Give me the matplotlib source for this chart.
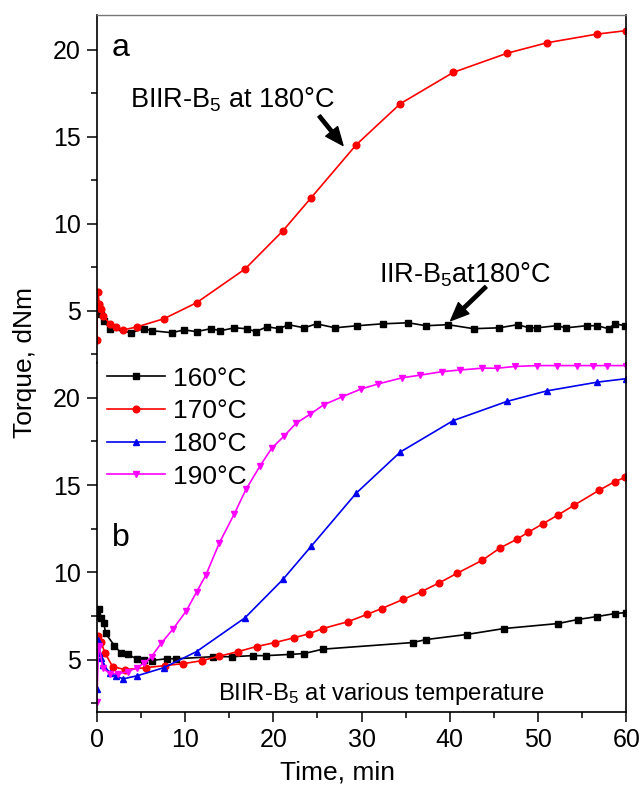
import numpy as np
import matplotlib
matplotlib.use("Agg")
import matplotlib.pyplot as plt
from matplotlib.ticker import MultipleLocator

plt.rcParams['font.family'] = ['Liberation Sans', 'DejaVu Sans']
plt.rcParams['mathtext.fontset'] = 'custom'
plt.rcParams['mathtext.rm'] = 'Liberation Sans'
plt.rcParams['mathtext.it'] = 'Liberation Sans:italic'

# BIIR-B5 at 180 C (same run shown in both panels)
t180 = [0.0, 0.1, 0.3, 0.5, 0.7, 1.5, 2.2, 3.0, 4.6, 7.6, 11.3, 16.8, 21.1, 24.3,
        29.4, 34.4, 40.4, 46.5, 51.0, 56.7, 60.0]
y180 = [3.3, 6.1, 5.4, 5.1, 4.7, 4.25, 4.05, 3.9, 4.08, 4.54, 5.46, 7.4, 9.6, 11.5,
        14.54, 16.9, 18.7, 19.8, 20.4, 20.9, 21.1]

# IIR-B5 at 180 C
t_iir = [0.1, 0.3, 0.5, 0.8, 1.5, 3.9, 5.3, 6.3, 8.5, 9.9, 11.3, 12.9, 14.0, 15.6,
         17.0, 18.0, 19.3, 20.7, 21.7, 23.5, 24.9, 27.0, 29.5, 32.4, 35.3, 37.3,
         39.8, 42.7, 45.6, 47.7, 49.0, 49.9, 52.1, 53.2, 55.5, 56.7, 58.0, 58.7, 59.9]
y_iir = [5.0, 5.3, 4.8, 4.4, 3.97, 3.74, 3.97, 3.85, 3.74, 3.9, 3.8, 3.97, 3.85, 4.02,
         3.97, 3.8, 4.08, 3.97, 4.2, 4.02, 4.25, 4.02, 4.14, 4.25, 4.31, 4.14,
         4.2, 3.97, 4.02, 4.2, 4.02, 4.02, 4.14, 4.02, 4.14, 4.14, 3.97, 4.25, 4.14]

# BIIR-B5 at various temperature
t160 = [0.0, 0.2, 0.5, 0.8, 1.0, 2.0, 2.7, 3.5, 4.5, 5.3, 6.2, 7.9, 9.0, 13.2, 15.3,
        17.7, 19.2, 21.9, 23.5, 25.6, 35.8, 37.3, 41.9, 46.1, 52.3, 54.5, 56.7, 58.7, 60.0]
y160 = [7.5, 7.9, 7.4, 7.1, 6.5, 5.8, 5.4, 5.3, 5.05, 5.0, 4.95, 5.05, 5.05, 5.17, 5.17,
        5.23, 5.23, 5.3, 5.35, 5.6, 5.98, 6.15, 6.44, 6.78, 7.07, 7.3, 7.47, 7.64, 7.7]

t170 = [0.0, 0.1, 0.5, 0.9, 1.8, 3.2, 5.6, 7.7, 9.8, 11.9, 13.9, 16.0, 18.1, 20.2, 22.4,
        24.1, 25.6, 28.5, 30.6, 32.3, 34.7, 36.8, 38.8, 40.8, 43.7, 45.7, 47.6, 48.9,
        50.6, 52.3, 54.1, 56.9, 58.7, 59.9]
y170 = [6.2, 6.38, 6.0, 5.4, 4.6, 4.43, 4.54, 4.66, 4.77, 4.94, 5.2, 5.46, 5.75, 5.98, 6.26,
        6.49, 6.78, 7.18, 7.59, 7.93, 8.45, 8.9, 9.4, 9.94, 10.7, 11.4, 11.9, 12.3,
        12.8, 13.3, 13.85, 14.7, 15.2, 15.45]

t190 = [0.0, 0.2, 0.3, 0.7, 1.5, 2.4, 3.5, 4.5, 5.4, 6.2, 7.3, 8.65, 10.15, 11.3, 12.35,
        13.9, 15.6, 16.9, 18.5, 19.8, 21.2, 22.6, 24.2, 25.7, 27.8, 29.9, 31.9, 34.6,
        36.6, 39.1, 41.2, 43.7, 45.4, 47.4, 49.9, 52.2, 54.4, 56.2, 57.8, 60.0]
y190 = [2.6, 5.8, 5.7, 4.5, 4.2, 4.2, 4.3, 4.54, 4.8, 5.17, 5.94, 6.76, 7.8, 8.87, 9.83,
        11.7, 13.37, 14.75, 16.1, 17.1, 17.8, 18.55, 19.07, 19.6, 20.06, 20.5, 20.8, 21.15,
        21.3, 21.5, 21.6, 21.7, 21.7, 21.8, 21.85, 21.85, 21.85, 21.85, 21.85, 21.85]

RED = '#ff0000'
BLUE = '#0000ee'
MAG = '#ff00ff'

fig = plt.figure(figsize=(6.41, 7.87), dpi=100, facecolor='white')
ax_a = fig.add_axes([0.151, 0.5388, 0.826, 0.4422])
ax_b = fig.add_axes([0.151, 0.0953, 0.826, 0.4435])

lw = 1.2
ms = 4.8

ax_a.plot(t_iir, y_iir, '-s', color='k', lw=lw, ms=ms)
ax_a.plot(t180, y180, '-o', color=RED, lw=lw, ms=ms)

ax_b.plot(t160, y160, '-s', color='k', lw=lw, ms=ms, label='160°C')
ax_b.plot(t170, y170, '-o', color=RED, lw=lw, ms=ms, label='170°C')
ax_b.plot(t180, y180, '-^', color=BLUE, lw=lw, ms=ms, label='180°C')
ax_b.plot(t190, y190, '-v', color=MAG, lw=lw, ms=ms, label='190°C')

for ax in (ax_a, ax_b):
    ax.set_xlim(0, 60)
    ax.set_ylim(2, 22)
    ax.yaxis.set_major_locator(MultipleLocator(5))
    ax.yaxis.set_minor_locator(MultipleLocator(2.5))
    ax.xaxis.set_major_locator(MultipleLocator(10))
    ax.xaxis.set_minor_locator(MultipleLocator(5))
    ax.tick_params(axis='both', which='major', direction='out', length=7.5, width=1.1,
                   labelsize=18, pad=4)
    ax.tick_params(axis='both', which='minor', direction='out', length=4, width=1.1)
    ax.tick_params(top=False, right=False, which='both')
    for s in ax.spines.values():
        s.set_linewidth(1.2)

ax_a.spines['bottom'].set_visible(False)
ax_a.spines['top'].set_color('#777777')
ax_a.spines['top'].set_linewidth(1.0)
ax_a.tick_params(axis='x', which='both', bottom=False, labelbottom=False)
ax_b.spines['top'].set_visible(False)

ax_a.text(1.7, 19.65, 'a', fontsize=23)
ax_b.text(1.7, 11.5, 'b', fontsize=23)

arrow_style = dict(facecolor='k', edgecolor='k', width=2.4, headwidth=11,
                   headlength=13, shrink=0)
ax_a.text(3.74, 16.67, 'BIIR-B$_5$ at 180°C', fontsize=19.5, va='baseline')
ax_a.annotate('', xy=(27.9, 14.5), xytext=(25.2, 16.2), arrowprops=arrow_style)
ax_a.text(31.97, 6.6, 'IIR-B$_5$at180°C', fontsize=19.5, va='baseline')
ax_a.annotate('', xy=(40.1, 4.43), xytext=(44.1, 6.38), arrowprops=arrow_style)

ax_b.text(13.7, 2.7, 'BIIR-B$_5$ at various temperature', fontsize=17.2, va='baseline')

ax_b.legend(loc='upper left', bbox_to_anchor=(0.0, 1.02), frameon=False, fontsize=19,
            handlelength=2.2, handletextpad=0.3, labelspacing=0.33, borderaxespad=0.2,
            borderpad=0.2, numpoints=1)

fig.text(0.039, 0.54, 'Torque, dNm', rotation=90, fontsize=19, ha='center', va='center')
fig.text(0.527, 0.018, 'Time, min', fontsize=19, ha='center', va='center')

fig.savefig('out.png', dpi=100)
